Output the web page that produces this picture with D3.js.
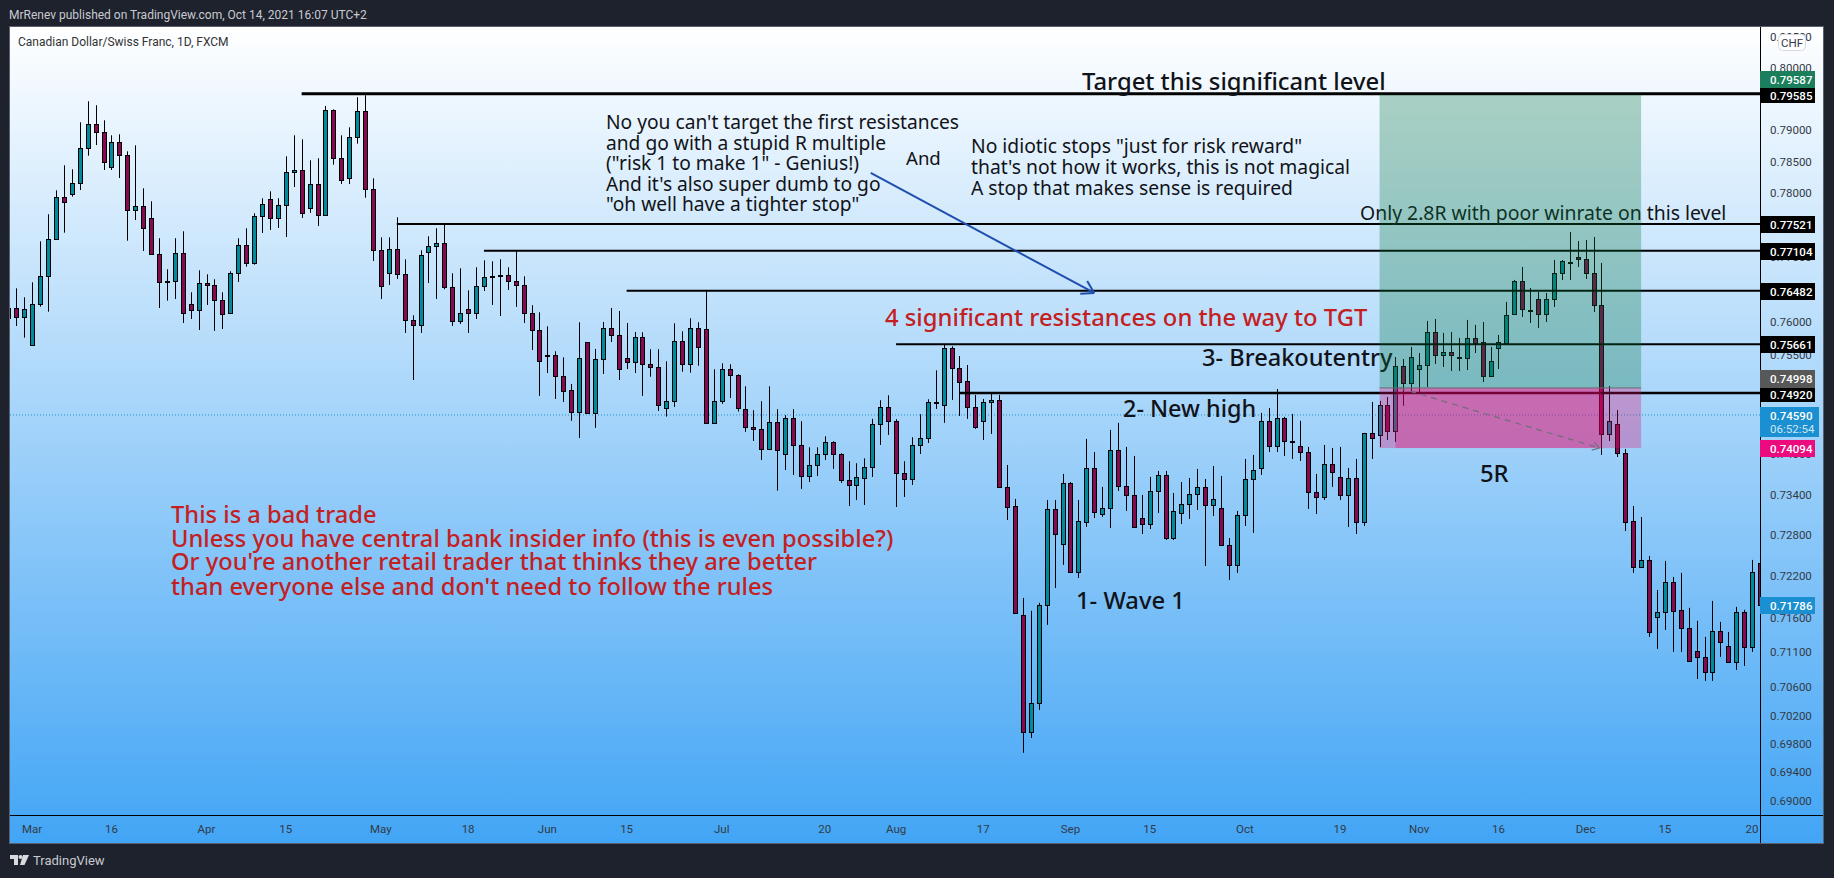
<!DOCTYPE html>
<html>
<head>
<meta charset="utf-8">
<style>
  html, body { margin: 0; padding: 0; background: #1e222d; overflow: hidden; }
  svg { display: block; }
</style>
<script src="https://cdn.jsdelivr.net/npm/d3@7"></script>
</head>
<body>
<div id="chartId"></div>
<script>
const WIDTH = 1834;
const HEIGHT = 878;

// daily CADCHF bars
const opens = [
  .7606,.76213,.76069,.75641,.76275,.76707,.77282,.77939,.77986,.7816,
  .78714,.79097,.78969,.78413,.78809,.78603,.77736,.77799,.7761,.77048,
  .7663,.7663,.77064,.76275,.76182,.76599,.76568,.76337,.76137,.76754,
  .77188,.76909,.77642,.77908,.7761,.77814,.78334,.78365,.77768,.78144,
  .77657,.7932,.78556,.78239,.7889,.79304,.78065,.7711,.76754,.77126,
  .76738,.76029,.75953,.77079,.77173,.7722,.76537,.76014,.76198,.76137,
  .76552,.76707,.76723,.76723,.7663,.76568,.76137,.75876,.75495,.75495,
  .75174,.74967,.74636,.75693,.74621,.75437,.75912,.75805,.75453,.75392,
  .75769,.75357,.75311,.74692,.74797,.75708,.75357,.75907,.75892,.74467,
  .74797,.75281,.7519,.74677,.74406,.74376,.74075,.74482,.74001,.74542,
  .74135,.73673,.73838,.74001,.74181,.74001,.73614,.7354,.73643,.73807,
  .74452,.74706,.74497,.73718,.73628,.74135,.7424,.74791,.74737,.75601,
  .753,.75103,.74711,.74502,.74787,.74817,.73515,.73233,.71642,.69969,
  .7038,.71786,.73189,.72674,.73574,.72265,.72997,.73797,.73115,.73204,
  .74065,.7353,.73396,.73056,.72967,.73455,.73693,.72761,.7313,.73263,
  .73411,.73515,.73248,.73204,.72659,.72367,.731,.73633,.73797,.74502,
  .74125,.74547,.742,.74125,.74035,.7344,.73366,.73856,.73663,.73396,
  .73648,.72997,.74321,.74291,.74742,.74351,.75331,.75073,.75285,.75346,
  .7585,.75499,.75545,.75468,.75453,.75759,.75697,.75179,.75606,.75682,
  .76126,.76635,.76187,.76357,.76126,.76357,.76759,.76929,.77006,.76975,
  .76759,.76265,.74306,.74457,.7402,.73011,.72338,.7244,.71612,.71685,
  .72119,.71714,.71453,.71122,.71036,.70821,.7141,.71194,.70964,.71685,
  .7118,.72396
];
const highs = [
  .76213,.76521,.76383,.76614,.7725,.77673,.78049,.78445,.78381,.79128,
  .79465,.79401,.7916,.78921,.78937,.78666,.78762,.78081,.77877,.77298,
  .76816,.77298,.77407,.7646,.768,.76738,.76661,.7646,.76785,.77298,
  .77454,.77689,.77924,.78034,.77924,.78587,.78921,.78857,.78524,.78556,
  .7939,.79336,.78921,.79049,.79529,.79561,.78239,.77313,.77313,.77626,
  .76971,.76106,.7711,.77329,.77454,.77516,.76754,.76831,.7649,.76846,
  .76955,.7694,.76971,.76846,.77104,.76707,.76261,.76152,.75937,.75555,
  .75463,.75058,.75999,.75693,.7559,.76003,.76218,.76172,.75988,.7585,
  .75846,.75586,.75586,.75402,.75983,.75861,.7606,.75999,.76482,.75281,
  .75372,.75357,.75205,.75023,.74662,.74797,.75023,.74677,.74587,.74677,
  .74497,.74105,.74105,.7427,.74195,.74016,.73897,.73867,.73941,.74532,
  .74812,.74887,.74527,.73897,.74255,.74602,.74827,.75265,.75651,.75631,
  .75483,.75346,.74892,.74832,.74907,.74892,.73841,.73337,.71887,.717,
  .71815,.73322,.73322,.73708,.73588,.73322,.7423,.74035,.73515,.74366,
  .74472,.7411,.73976,.73396,.73663,.73752,.73752,.73425,.73588,.73648,
  .73782,.73633,.73826,.73678,.72761,.73159,.73931,.73991,.74621,.74696,
  .74982,.74562,.74606,.74502,.7411,.73708,.7414,.74095,.7411,.73797,
  .73931,.74321,.74787,.74802,.74862,.75468,.75437,.75621,.75529,.76019,
  .76049,.75835,.7585,.75759,.76034,.75958,.76003,.75621,.75804,.76311,
  .7665,.76851,.76526,.76464,.76449,.7696,.7696,.77396,.77255,.77271,
  .77318,.76914,.75027,.74666,.7408,.73233,.7307,.72498,.72002,.72425,
  .72192,.7225,.71743,.71555,.71323,.71843,.7154,.71395,.71757,.71714,
  .7244,.7244
];
const lows = [
  .7606,.75942,.75763,.75641,.76238,.76161,.77282,.77385,.77949,.78054,
  .78597,.78766,.7837,.7837,.78244,.7726,.77583,.771,.77048,.76218,
  .76331,.76357,.75988,.76049,.75881,.76265,.75866,.75896,.76137,.76619,
  .76856,.76887,.7738,.77427,.77458,.77318,.78101,.77615,.77694,.77489,
  .77657,.78454,.78149,.78149,.78788,.77933,.76945,.76357,.76573,.76666,
  .75835,.75118,.75835,.76604,.76357,.76506,.75942,.75973,.75835,.76049,
  .7648,.76265,.76095,.76495,.76235,.75988,.75575,.74878,.75224,.74832,
  .74787,.74502,.74245,.74621,.74396,.7521,.75697,.75118,.75285,.75224,
  .74878,.75168,.74651,.74566,.74711,.75244,.75229,.75335,.74467,.74467,
  .74757,.74847,.74641,.74336,.742,.73916,.74075,.7346,.73767,.73693,
  .73485,.73588,.73677,.73916,.73782,.73574,.73233,.73322,.73248,.73663,
  .7414,.7429,.73218,.73366,.73544,.74005,.7417,.74681,.74472,.74817,
  .74576,.74532,.74381,.74215,.74306,.73515,.73026,.71656,.69674,.69883,
  .70281,.71497,.72031,.72367,.7225,.72177,.72923,.73056,.73071,.72908,
  .73455,.73159,.72923,.7282,.72893,.7313,.72732,.72732,.72967,.73041,
  .73174,.72352,.73085,.72659,.72148,.7225,.72938,.72835,.73693,.74035,
  .74035,.73976,.73931,.73901,.73189,.73115,.73322,.73515,.73322,.72923,
  .7282,.72938,.73931,.7411,.74215,.74185,.74727,.74922,.74922,.75012,
  .75362,.75316,.75255,.75255,.7527,.75529,.75088,.75164,.75285,.75682,
  .7611,.7608,.75988,.75912,.76003,.76234,.7665,.7665,.76851,.76666,
  .76157,.7399,.742,.7396,.72864,.7225,.72338,.71323,.71151,.71424,
  .71108,.71108,.70964,.70721,.70693,.70693,.71036,.7095,.7085,.70907,
  .71108,.71786
];
const closes = [
  .76213,.76075,.76198,.76275,.76707,.77282,.77939,.77861,.7816,.78714,
  .79097,.78969,.78492,.78809,.78603,.77736,.77799,.77454,.77048,.76614,
  .76614,.77064,.76137,.76182,.76599,.76568,.76337,.76121,.76754,.77188,
  .76909,.77642,.7783,.7761,.77814,.78334,.78365,.77689,.78144,.77657,
  .7932,.78556,.78207,.7889,.79304,.78065,.7711,.76552,.77126,.76738,
  .76029,.75953,.77033,.77173,.7722,.76537,.76014,.76137,.76137,.76552,
  .76692,.76692,.76707,.7663,.76568,.76137,.75876,.75402,.7548,.75174,
  .74952,.74636,.75448,.74621,.75437,.75912,.75805,.75285,.75392,.75774,
  .75357,.75311,.74737,.74797,.75708,.75357,.75907,.75616,.74467,.74797,
  .75281,.75183,.74692,.74406,.74376,.74075,.74482,.7406,.74542,.74135,
  .73673,.73838,.74001,.74181,.74001,.73614,.7354,.73658,.73807,.74452,
  .74706,.74497,.73718,.73628,.74135,.7424,.74782,.74782,.75601,.75296,
  .75088,.74711,.74411,.74787,.74817,.73515,.73218,.71671,.69969,.7038,
  .71786,.73189,.7282,.73574,.72265,.73011,.73797,.73144,.73204,.74065,
  .7353,.73396,.72923,.72967,.73455,.73693,.72761,.73159,.73263,.73411,
  .73515,.73248,.73337,.72659,.72367,.731,.73633,.73767,.74502,.74125,
  .74547,.742,.74195,.74035,.7344,.73366,.73856,.73737,.73396,.73648,
  .72997,.74321,.74245,.74742,.74351,.75331,.75073,.75468,.75346,.7585,
  .75499,.75545,.75499,.75453,.75759,.75682,.75179,.75407,.75697,.7611,
  .76635,.76203,.76172,.76126,.76357,.76759,.76945,.76914,.76975,.76759,
  .76265,.74306,.74502,.7402,.72997,.72338,.7244,.71395,.71685,.72119,
  .717,.71453,.70979,.71036,.70821,.7141,.71251,.70964,.71685,.7118,
  .72265,.71786
];
const bars = opens.map((o, i) => ({ i, o, h: highs[i], l: lows[i], c: closes[i] }));

// price axis labels (the ones a level label hides completely are left out)
const priceTicks = [.805, .8, .79, .785, .78, .77, .76, .755, .74,
  .734, .728, .722, .716, .711, .706, .702, .698, .694, .69];

// time axis labels and the bar they sit under
const timeLabels = ['Mar', '16', 'Apr', '15', 'May', '18', 'Jun', '15', 'Jul', '20', 'Aug', '17',
  'Sep', '15', 'Oct', '19', 'Nov', '16', 'Dec', '15', '20'];
const timeBars = [3, 13, 25, 35, 47, 58, 68, 78, 90, 103, 112, 123, 134, 144, 156, 168, 178, 188, 199, 209, 220];

// horizontal levels, drawn from a bar to the price axis
const levelPrices = [.79585, .77521, .77104, .76482, .75661, .7492];
const levelStarts = [37, 49, 60, 78, 112, 120];
const levelWidths = [3, 2, 2, 2, 2, 2.5];

// long position tool
const entry = .74998;
const target = .79587;
const stop = .74094;
const lastPrice = .7459;
const closePrice = .71786;

const x = d3.scaleLinear().domain([0, 221]).range([8.4, 1760]);
const y = d3.scaleLog().domain([.8, .69]).range([68, 801]);

const LEFT = 10, RIGHT = 1823, TOP = 27, BOTTOM = 843, AXIS_X = 1760, AXIS_Y = 815;

const svg = d3.select('#chartId').append('svg')
  .attr('width', WIDTH)
  .attr('height', HEIGHT)
  .attr('viewBox', `0 0 ${WIDTH} ${HEIGHT}`);

const defs = svg.append('defs');
const grad = defs.append('linearGradient').attr('id', 'bg').attr('x1', 0).attr('x2', 0).attr('y1', 0).attr('y2', 1);
grad.append('stop').attr('offset', 0).attr('stop-color', '#ffffff');
grad.append('stop').attr('offset', 1).attr('stop-color', '#42a5f5');
defs.append('clipPath').attr('id', 'plot').append('rect')
  .attr('x', LEFT).attr('y', TOP).attr('width', AXIS_X - LEFT).attr('height', AXIS_Y - TOP);

svg.append('rect').attr('width', WIDTH).attr('height', HEIGHT).attr('fill', '#1e222d');

svg.append('text').attr('x', 9).attr('y', 19)
  .attr('font-family', 'Roboto').attr('font-size', 12).attr('fill', '#c8cad0')
  .text('MrRenev published on TradingView.com, Oct 14, 2021 16:07 UTC+2');

svg.append('rect').attr('x', LEFT - .5).attr('y', TOP - .5)
  .attr('width', RIGHT - LEFT + 1).attr('height', BOTTOM - TOP + 1)
  .attr('fill', 'url(#bg)').attr('stroke', '#596070');

svg.append('text').attr('x', 18).attr('y', 46)
  .attr('font-family', 'Roboto').attr('font-size', 12).attr('fill', '#333')
  .text('Canadian Dollar/Swiss Franc, 1D, FXCM');

// price ticks
svg.append('g').selectAll('text').data(priceTicks).enter().append('text')
  .attr('x', 1770).attr('y', d => y(d)).attr('dy', '.35em')
  .attr('font-family', 'Roboto').attr('font-size', 11.5).attr('fill', '#333a45')
  .text(d => d.toFixed(5));

// time ticks
svg.append('g').selectAll('text').data(timeLabels).enter().append('text')
  .attr('x', (d, i) => x(timeBars[i])).attr('y', 829).attr('dy', '.35em').attr('text-anchor', 'middle')
  .attr('font-family', 'Roboto').attr('font-size', 11.5).attr('fill', '#333a45')
  .text(d => d);

const plot = svg.append('g').attr('clip-path', 'url(#plot)');

// last price dotted line
plot.append('line')
  .attr('x1', LEFT).attr('x2', AXIS_X).attr('y1', y(lastPrice)).attr('y2', y(lastPrice))
  .attr('stroke', '#1e90d0').attr('stroke-width', 1).attr('stroke-dasharray', '1 2');

// candles
const candle = plot.append('g').selectAll('g').data(bars).enter().append('g');
candle.append('line')
  .attr('x1', d => Math.round(x(d.i)) + .5).attr('x2', d => Math.round(x(d.i)) + .5)
  .attr('y1', d => y(d.h)).attr('y2', d => y(d.l))
  .attr('stroke', '#000');
candle.append('rect')
  .attr('x', d => Math.round(x(d.i)) - 1.5)
  .attr('width', 4)
  .attr('y', d => Math.round(y(Math.max(d.o, d.c))) + .5)
  .attr('height', d => Math.max(1, Math.round(y(Math.min(d.o, d.c)) - y(Math.max(d.o, d.c)))))
  .attr('fill', d => (d.c >= d.o ? '#008a9c' : '#850a4f'))
  .attr('stroke', '#000');

// levels
plot.append('g').selectAll('line').data(levelPrices).enter().append('line')
  .attr('x1', (d, i) => x(levelStarts[i])).attr('x2', AXIS_X)
  .attr('y1', d => y(d)).attr('y2', d => y(d))
  .attr('stroke', '#000').attr('stroke-width', (d, i) => levelWidths[i]);

function note(txt, px, py, size, fill, weight) {
  svg.append('text').attr('x', px).attr('y', py).attr('dy', '.35em')
    .attr('font-family', '"Noto Sans"').attr('font-size', size)
    .attr('font-weight', weight || 400).attr('fill', fill).text(txt);
}

const RED = '#c4201f';
const INK = '#111318';
note('Target this significant level', 1082, 82, 23.8, INK, 500);
[['No you can\'t target the first resistances', 122], ['and go with a stupid R multiple', 143],
  ['("risk 1 to make 1" - Genius!)', 163], ['And it\'s also super dumb to go', 184],
  ['"oh well have a tighter stop"', 204]].forEach(d => note(d[0], 606, d[1], 19.2, INK));
note('And', 906, 158, 18.6, INK);
[['No idiotic stops "just for risk reward"', 146], ['that\'s not how it works, this is not magical', 167],
  ['A stop that makes sense is required', 188]].forEach(d => note(d[0], 971, d[1], 19.3, INK));
note('Only 2.8R with poor winrate on this level', 1360, 213, 19.4, INK);
note('4 significant resistances on the way to TGT', 885, 318, 23.8, RED, 500);
note('3- Breakoutentry', 1202, 358, 23.6, INK, 500);
note('2- New high', 1123, 409, 23.4, INK, 500);
note('5R', 1480, 474, 23.8, INK, 500);
note('1- Wave 1', 1076, 601, 23.8, INK, 500);
[['This is a bad trade', 515], ['Unless you have central bank insider info (this is even possible?)', 539],
  ['Or you\'re another retail trader that thinks they are better', 562],
  ['than everyone else and don\'t need to follow the rules', 587]].forEach(d => note(d[0], 171, d[1], 23.7, RED, 500));

// position tool, over candles and lines
const pos = svg.append('g');
pos.append('rect').attr('x', x(173)).attr('width', x(206) - x(173))
  .attr('y', y(target) + 1).attr('height', y(entry) - y(target) - 1)
  .attr('fill', 'rgb(5,117,60)').attr('fill-opacity', .3);
pos.append('rect').attr('x', x(173)).attr('width', x(206) - x(173))
  .attr('y', y(entry)).attr('height', y(stop) - y(entry))
  .attr('fill', 'rgb(230,6,110)').attr('fill-opacity', .3);
pos.append('rect').attr('x', x(175)).attr('width', x(201) - x(175))
  .attr('y', y(entry)).attr('height', y(stop) - y(entry))
  .attr('fill', 'rgb(230,6,110)').attr('fill-opacity', .3);
pos.append('line').attr('x1', x(173)).attr('x2', x(206)).attr('y1', y(entry)).attr('y2', y(entry))
  .attr('stroke', '#6a6a72').attr('stroke-width', 1);

function arrowHead(g, x0, y0, x1, y1, len, color, width) {
  const a = Math.atan2(y1 - y0, x1 - x0);
  [-.55, .55].forEach(t => {
    g.append('line').attr('x1', x1).attr('y1', y1)
      .attr('x2', x1 - len * Math.cos(a + t)).attr('y2', y1 - len * Math.sin(a + t))
      .attr('stroke', color).attr('stroke-width', width);
  });
}

// trade path
const tx0 = x(175) + 4, ty0 = y(entry), tx1 = x(201) - 2, ty1 = y(stop);
pos.append('line').attr('x1', tx0).attr('y1', ty0).attr('x2', tx1).attr('y2', ty1)
  .attr('stroke', '#6f6f78').attr('stroke-width', 1.2).attr('stroke-dasharray', '6 5');
arrowHead(pos, tx0, ty0, tx1, ty1, 8, '#6f6f78', 1.2);

// blue arrow from the commentary down to the level
const ax0 = x(108.8), ay0 = y(.78323), ax1 = x(137), ay1 = y(.76449);
svg.append('line').attr('x1', ax0).attr('y1', ay0).attr('x2', ax1).attr('y2', ay1)
  .attr('stroke', '#1f4fae').attr('stroke-width', 2);
arrowHead(svg, ax0, ay0, ax1, ay1, 14, '#1f4fae', 2);

// axis lines
svg.append('line').attr('x1', AXIS_X + .5).attr('x2', AXIS_X + .5).attr('y1', TOP).attr('y2', BOTTOM).attr('stroke', '#000');
svg.append('line').attr('x1', LEFT).attr('x2', RIGHT).attr('y1', AXIS_Y + .5).attr('y2', AXIS_Y + .5).attr('stroke', '#000');

// CHF button
svg.append('rect').attr('x', 1778.5).attr('y', 34.5).attr('width', 27).attr('height', 16).attr('rx', 4)
  .attr('fill', '#fff').attr('stroke', '#d6d9e0');
svg.append('text').attr('x', 1792).attr('y', 42.5).attr('dy', '.35em').attr('text-anchor', 'middle')
  .attr('font-family', 'Roboto').attr('font-size', 11.5).attr('fill', '#333a45').text('CHF');

// price labels on the axis
function priceLabel(value, top, bottom, fill, right) {
  svg.append('rect').attr('x', AXIS_X).attr('y', top).attr('width', (right || 1815) - AXIS_X).attr('height', bottom - top)
    .attr('fill', fill);
  svg.append('text').attr('x', 1770).attr('y', (top + bottom) / 2).attr('dy', '.35em')
    .attr('font-family', 'Roboto').attr('font-size', 11.5).attr('font-weight', 500).attr('fill', '#fff')
    .text(value.toFixed(5));
}
priceLabel(target, 71, 88, '#1b7f5c');
priceLabel(levelPrices[0], 88, 103, '#000');
priceLabel(levelPrices[1], 216, 233, '#000');
priceLabel(levelPrices[2], 243, 260, '#000');
priceLabel(levelPrices[3], 283, 300, '#000');
priceLabel(levelPrices[4], 336, 353, '#000');
priceLabel(entry, 370, 388, '#585858');
priceLabel(levelPrices[5], 388, 402, '#000');
priceLabel(stop, 440, 457, '#ec0a7f');
priceLabel(closePrice, 597, 614, '#1a8fd1');
// last price with the countdown below it
svg.append('rect').attr('x', AXIS_X).attr('y', 407).attr('width', 59).attr('height', 30).attr('fill', '#1a8fd1');
svg.append('text').attr('x', 1770).attr('y', 416).attr('dy', '.35em')
  .attr('font-family', 'Roboto').attr('font-size', 11.5).attr('font-weight', 500).attr('fill', '#fff')
  .text(lastPrice.toFixed(5));
svg.append('text').attr('x', 1770).attr('y', 429).attr('dy', '.35em')
  .attr('font-family', 'Roboto').attr('font-size', 11.5).attr('fill', '#cfe6f5').text('06:52:54');

// TradingView footer
const logo = svg.append('g').attr('fill', '#d8dade');
logo.append('path').attr('d', 'M10 855h8v10h-4v-6h-4z');
logo.append('circle').attr('cx', 20.5).attr('cy', 857).attr('r', 2);
logo.append('path').attr('d', 'M23 855h6l-4.5 10h-4.5z');
svg.append('text').attr('x', 33).attr('y', 865)
  .attr('font-family', 'Roboto').attr('font-size', 13).attr('fill', '#c8cad0').text('TradingView');
</script>
</body>
</html>
